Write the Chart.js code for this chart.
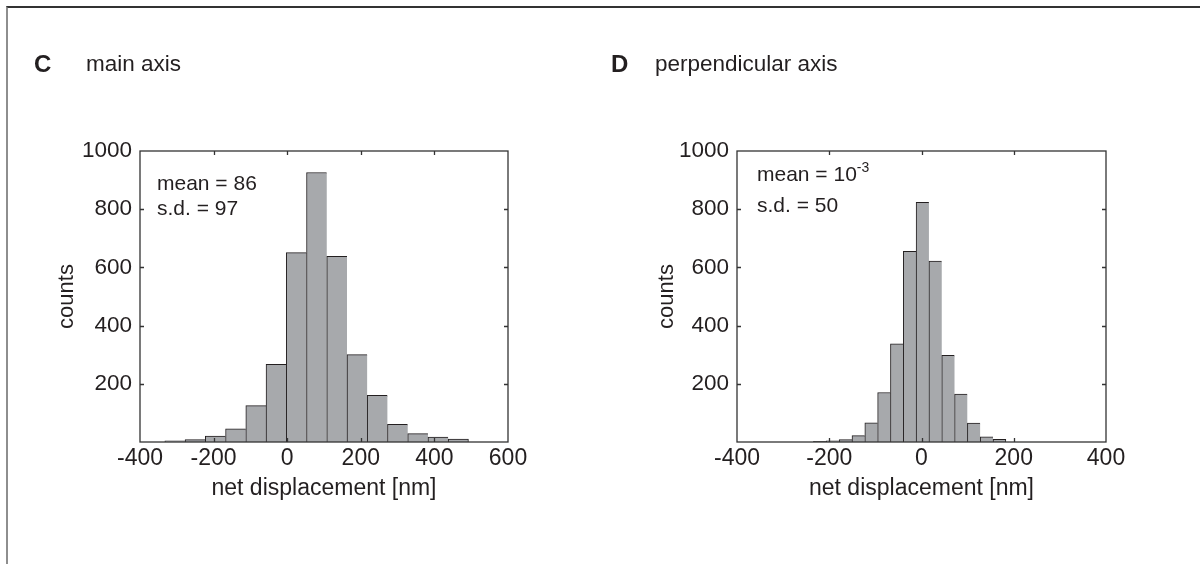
<!DOCTYPE html>
<html>
<head>
<meta charset="utf-8">
<script src="https://cdn.jsdelivr.net/npm/chart.js@4.4.0/dist/chart.umd.min.js"></script>
<style>
  html, body { margin: 0; padding: 0; background: #fff; }
  body { width: 1200px; height: 564px; position: relative; overflow: hidden;
         font-family: "Liberation Sans", Arial, sans-serif; color: #231f20; }
  .frame { position: absolute; left: 6px; top: 6px; width: 1200px; height: 600px;
           border-top: 2px solid #333; border-left: 2px solid #8e8e8e; }
  .box { position: absolute; top: 0; width: 600px; height: 564px; }
  .panel { position: absolute; top: 51px; font-weight: bold; font-size: 24px; line-height: 26px; }
  .head { position: absolute; top: 51px; font-size: 22.5px; line-height: 26px; }
  .note { position: absolute; font-size: 21px; line-height: 22px; }
  .note sup { font-size: 14px; vertical-align: 9px; line-height: 0; }
</style>
</head>
<body>
<div class="frame"></div>
<div class="box" style="left:0"><canvas id="chartC" width="600" height="564"></canvas></div>
<div class="box" style="left:600px"><canvas id="chartD" width="600" height="564"></canvas></div>

<div class="panel" style="left:34px">C</div>
<div class="head" style="left:86px">main axis</div>
<div class="panel" style="left:611px">D</div>
<div class="head" style="left:655px">perpendicular axis</div>

<div class="note" style="left:157px; top:172px">mean = 86</div>
<div class="note" style="left:157px; top:197px">s.d. = 97</div>
<div class="note" style="left:757px; top:163px">mean = 10<sup>-3</sup></div>
<div class="note" style="left:757px; top:194px">s.d. = 50</div>

<script>
// histogram bin centres [nm] and counts
const mainCenters = [-305, -250, -195, -140, -85, -30, 25, 80, 135, 190, 245, 300, 355, 410, 465];
const mainCounts = [4, 8, 20, 45, 125, 267, 651, 926, 638, 300, 160, 61, 29, 17, 10];

const perpCenters = [-220.2, -192.4, -164.6, -136.8, -109.0, -81.2, -53.4, -25.6, 2.2, 30.0, 57.8, 85.6, 113.4, 141.2, 169.0];
const perpCounts = [2, 4, 8, 22, 66, 170, 337, 655, 824, 622, 298, 165, 65, 18, 9];

const mainTicksX = [-400, -200, 0, 200, 400, 600];
const perpTicksX = [-400, -200, 0, 200, 400];
const countTicks = [0, 200, 400, 600, 800, 1000];

const ink = '#231f20';
const barFill = '#a7a9ac';
const fontFamily = '"Liberation Sans", Arial, sans-serif';

// MATLAB style box with inward ticks on all four sides
const boxTicks = {
  id: 'boxTicks',
  afterDatasetsDraw(chart) {
    const { ctx, chartArea: a, scales } = chart;
    const len = 4;
    ctx.save();
    ctx.strokeStyle = '#333';
    ctx.lineWidth = 1.3;
    ctx.strokeRect(a.left, a.top, a.right - a.left, a.bottom - a.top);
    ctx.beginPath();
    scales.x.ticks.forEach(t => {
      const px = Math.round(scales.x.getPixelForValue(t.value)) + 0.5;
      if (px <= a.left + 1 || px >= a.right - 1) return;
      ctx.moveTo(px, a.bottom); ctx.lineTo(px, a.bottom - len);
      ctx.moveTo(px, a.top); ctx.lineTo(px, a.top + len);
    });
    scales.y.ticks.forEach(t => {
      const py = Math.round(scales.y.getPixelForValue(t.value)) + 0.5;
      if (py <= a.top + 1 || py >= a.bottom - 1) return;
      ctx.moveTo(a.left, py); ctx.lineTo(a.left + len, py);
      ctx.moveTo(a.right, py); ctx.lineTo(a.right - len, py);
    });
    ctx.stroke();
    ctx.restore();
  }
};

function makeHistogram(id, centers, counts, xTicks, yWidth, padRight) {
  const n = counts.length;
  return new Chart(document.getElementById(id), {
    type: 'bar',
    data: {
      datasets: [{
        data: centers.map((c, i) => ({ x: c, y: counts[i] })),
        backgroundColor: barFill,
        borderColor: ink,
        borderWidth: ctx => ({ top: 1, left: 1, bottom: 0, right: ctx.dataIndex === n - 1 ? 1 : 0 }),
        borderSkipped: false,
        barPercentage: 1,
        categoryPercentage: 1
      }]
    },
    options: {
      responsive: false,
      animation: false,
      layout: { padding: { left: 0, top: 151, right: padRight, bottom: 52 } },
      plugins: { legend: { display: false }, tooltip: { enabled: false } },
      scales: {
        x: {
          type: 'linear',
          offset: false,
          min: xTicks[0],
          max: xTicks[xTicks.length - 1],
          afterBuildTicks: scale => { scale.ticks = xTicks.map(v => ({ value: v })); },
          afterFit: scale => { scale.height = 70; },
          grid: { display: false, drawTicks: false },
          border: { display: false },
          ticks: { color: ink, padding: 3, maxRotation: 0, font: { family: fontFamily, size: 23 } },
          title: {
            display: true,
            text: 'net displacement [nm]',
            color: ink,
            padding: { top: 0, bottom: 10 },
            font: { family: fontFamily, size: 23 }
          }
        },
        y: {
          min: 0,
          max: 1000,
          afterBuildTicks: scale => { scale.ticks = countTicks.map(v => ({ value: v })); },
          afterFit: scale => { scale.width = yWidth; },
          grid: { display: false, drawTicks: false },
          border: { display: false },
          ticks: {
            color: ink,
            padding: 8,
            font: { family: fontFamily, size: 22.5 },
            callback: v => (v === 0 ? '' : v)
          },
          title: {
            display: true,
            text: 'counts',
            color: ink,
            padding: { top: 54, bottom: 0 },
            font: { family: fontFamily, size: 22 }
          }
        }
      }
    },
    plugins: [boxTicks]
  });
}

makeHistogram('chartC', mainCenters, mainCounts, mainTicksX, 140, 92);
makeHistogram('chartD', perpCenters, perpCounts, perpTicksX, 137, 94);
</script>
</body>
</html>
